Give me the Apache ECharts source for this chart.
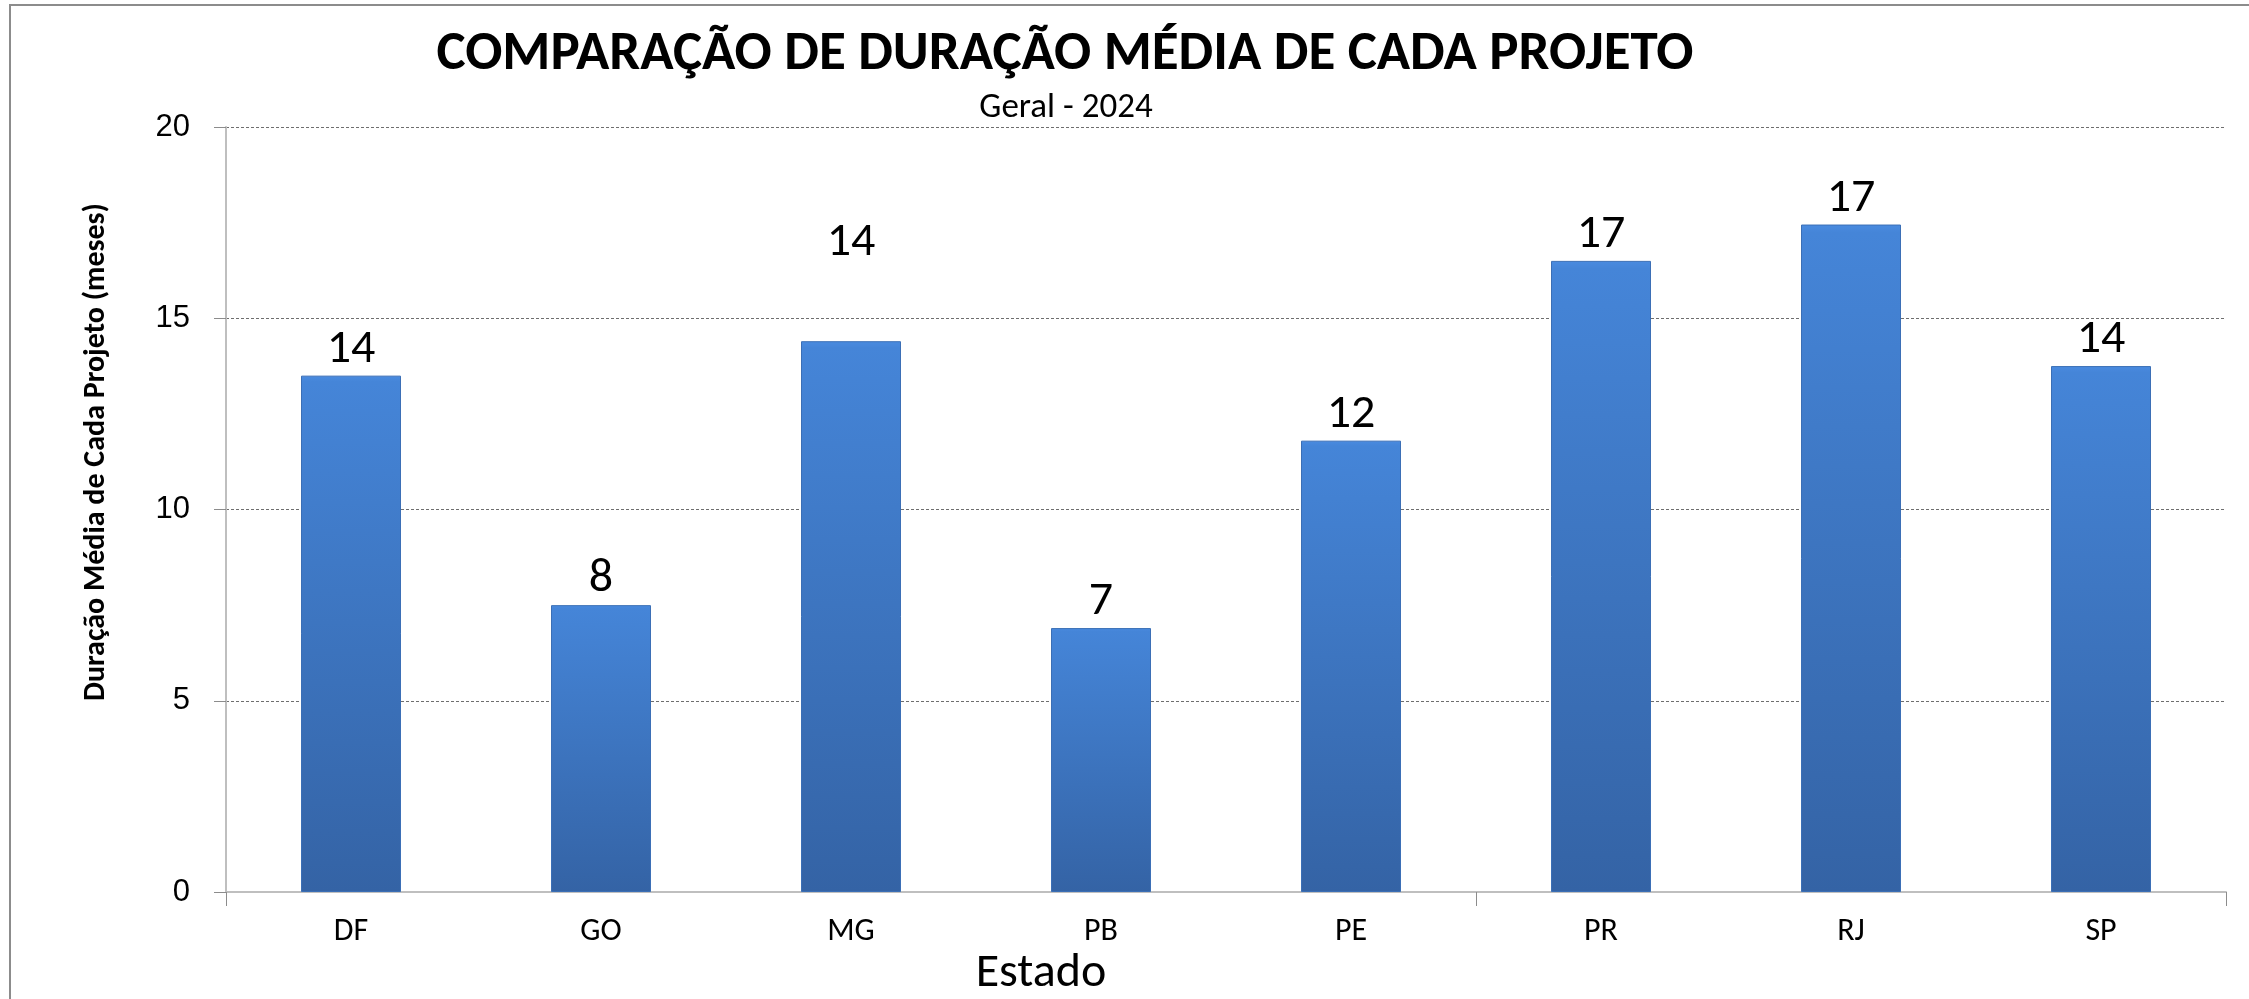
<!DOCTYPE html>
<html>
<head>
<meta charset="utf-8">
<script src="https://cdn.jsdelivr.net/npm/echarts@6/dist/echarts.min.js"></script>
<style>
html,body{margin:0;padding:0;background:#fff;}
#chart{width:2249px;height:999px;}
</style>
</head>
<body>
<div id="chart"></div>
<script>
const titleText = 'COMPARAÇÃO DE DURAÇÃO MÉDIA DE CADA PROJETO';
const subtitleText = 'Geral - 2024';
const yAxisTitle = 'Duração Média de Cada Projeto (meses)';
const xAxisTitle = 'Estado';
const categories = ['DF', 'GO', 'MG', 'PB', 'PE', 'PR', 'RJ', 'SP'];
const values = [13.5, 7.5, 14.4, 6.9, 11.8, 16.5, 17.45, 13.75];
const yTicks = [0, 5, 10, 15, 20];

const FONT = 'Carlito, Calibri, Lato, "Noto Sans", sans-serif';

const chart = echarts.init(document.getElementById('chart'), null, {renderer: 'canvas'});

const seriesData = values.map((v, i) => {
  const item = {value: v};
  if (categories[i] === 'MG') {
    item.label = {offset: [0, -72]};
  }
  return item;
});

chart.setOption({
  backgroundColor: '#ffffff',
  animation: false,
  title: [
    {
      text: titleText,
      left: 1060, top: 23, textAlign: 'center',
      textStyle: {fontFamily: FONT, fontWeight: 'bold', fontSize: 55, color: '#000'}
    },
    {
      text: subtitleText,
      left: 1061, top: 86, textAlign: 'center',
      textStyle: {fontFamily: FONT, fontWeight: 'normal', fontSize: 35, color: '#000'}
    },
    {
      text: xAxisTitle,
      left: 1036, top: 945, textAlign: 'center',
      textStyle: {fontFamily: FONT, fontWeight: 'normal', fontSize: 48, color: '#000'}
    }
  ],
  graphic: [
    {
      type: 'rect', silent: true, z: -1,
      shape: {x: 10, y: 5, width: 2400, height: 1200},
      style: {fill: 'none', stroke: '#8c8c8c', lineWidth: 2}
    },
    {
      type: 'text', silent: true,
      x: 96, y: 452, rotation: Math.PI / 2,
      style: {
        text: yAxisTitle, fontFamily: FONT, fontWeight: 'bold', fontSize: 30,
        fill: '#000', align: 'center', verticalAlign: 'middle'
      }
    }
  ],
  grid: {left: 226, right: 23, top: 127, bottom: 107, containLabel: false},
  xAxis: {
    type: 'category',
    data: categories,
    boundaryGap: true,
    axisLine: {show: true, lineStyle: {color: '#bfbfbf', width: 2}},
    axisTick: {
      show: true, length: 14, lineStyle: {color: '#8c8c8c', width: 1},
      interval: (index) => index === 0 || index === 5
    },
    axisLabel: {interval: 0, margin: 24, fontFamily: FONT, fontSize: 32, color: '#000'},
    splitLine: {show: false}
  },
  yAxis: {
    type: 'value',
    min: 0, max: 20, interval: 5,
    axisLine: {show: true, lineStyle: {color: '#bfbfbf', width: 2}},
    axisTick: {show: true, length: 12, lineStyle: {color: '#8c8c8c', width: 1}},
    axisLabel: {
      margin: 36, fontFamily: '"Liberation Sans", Arial, sans-serif', fontSize: 31, color: '#000',
      formatter: v => (yTicks.indexOf(v) >= 0 ? String(v) : '')
    },
    splitLine: {show: true, lineStyle: {color: '#6e6e6e', width: 1, type: [3, 2]}}
  },
  series: [{
    type: 'bar',
    data: seriesData,
    barWidth: 100,
    itemStyle: {
      color: new echarts.graphic.LinearGradient(0, 0, 0, 1, [
        {offset: 0, color: '#4a8be0'},
        {offset: 0.012, color: '#4585d8'},
        {offset: 1, color: '#3463a5'}
      ]),
      borderColor: '#3b6fb6', borderWidth: 1
    },
    label: {
      show: true, position: 'top', distance: 2,
      fontFamily: FONT, fontSize: 48, color: '#000',
      formatter: p => String(Math.round(p.value))
    }
  }]
});
</script>
</body>
</html>
